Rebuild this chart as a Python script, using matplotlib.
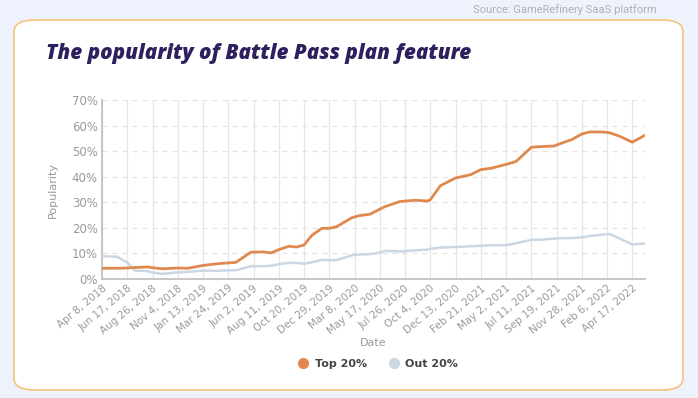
import matplotlib
matplotlib.use("Agg")
import matplotlib.pyplot as plt
from matplotlib.patches import FancyBboxPatch
from matplotlib.lines import Line2D
import pandas as pd

# data (weekly sample points)
dates = ["2018-04-08", "2018-05-20", "2018-06-17", "2018-07-08", "2018-08-12",
         "2018-08-26", "2018-09-23", "2018-11-04", "2018-12-02", "2019-01-13",
         "2019-02-24", "2019-03-24", "2019-04-14", "2019-05-26", "2019-06-30",
         "2019-07-21", "2019-08-11", "2019-09-08", "2019-09-29", "2019-10-20",
         "2019-11-10", "2019-12-08", "2019-12-29", "2020-01-19", "2020-03-01",
         "2020-03-22", "2020-04-19", "2020-05-17", "2020-05-31", "2020-07-12",
         "2020-08-23", "2020-09-27", "2020-10-04", "2020-11-01", "2020-12-13",
         "2021-01-24", "2021-02-21", "2021-03-21", "2021-05-02", "2021-05-30",
         "2021-07-11", "2021-08-08", "2021-09-12", "2021-10-10", "2021-10-31",
         "2021-11-28", "2021-12-19", "2022-01-23", "2022-02-13", "2022-03-13",
         "2022-04-17", "2022-05-22"]
top20 = [4.2, 4.2, 4.3, 4.5, 4.7, 4.4, 4.0, 4.3, 4.2, 5.3,
         6.0, 6.3, 6.5, 10.5, 10.6, 10.2, 11.5, 12.8, 12.5, 13.3,
         17.0, 19.8, 19.8, 20.5, 24.0, 24.8, 25.3, 27.3, 28.3, 30.3,
         30.8, 30.5, 31.0, 36.5, 39.5, 40.8, 42.8, 43.3, 44.8, 46.0,
         51.5, 51.8, 52.0, 53.5, 54.5, 56.7, 57.5, 57.5, 57.2, 55.8,
         53.5, 56.2]
out20 = [8.9, 8.7, 6.5, 3.3, 3.1, 2.5, 2.0, 2.6, 2.8, 3.3,
         3.2, 3.4, 3.4, 5.0, 5.0, 5.2, 5.8, 6.3, 6.3, 6.0,
         6.5, 7.5, 7.3, 7.4, 9.3, 9.6, 9.7, 10.3, 11.0, 10.8,
         11.2, 11.5, 11.8, 12.3, 12.5, 12.8, 13.0, 13.2, 13.2, 14.0,
         15.3, 15.4, 15.8, 16.0, 16.0, 16.3, 16.8, 17.3, 17.6, 15.8,
         13.5, 13.9]
series_labels = ["Top 20%", "Out 20%"]
yticks = [0, 10, 20, 30, 40, 50, 60, 70]

x = pd.to_datetime(dates)
orange = "#e0894f"
blue = "#cbd7e3"
grey = "#9a9a9a"

fig = plt.figure(figsize=(6.98, 3.98), dpi=100)
fig.patch.set_facecolor("#eef2fc")

# white rounded card behind everything
card = FancyBboxPatch((14 / 698, 8 / 398), 669 / 698, 370 / 398,
                      boxstyle="round,pad=0,rounding_size=0.03",
                      transform=fig.transFigure, facecolor="white",
                      edgecolor="#f6c37a", linewidth=1.2, zorder=-10)
fig.patches.append(card)

fig.text(657 / 698, 1 - 10 / 398, "Source: GameRefinery SaaS platform",
         ha="right", va="center", fontsize=8, color="#b0b0b0",
         family="Roboto")
fig.text(46 / 698, 1 - 54 / 398, "The popularity of Battle Pass plan feature",
         ha="left", va="center", fontsize=14.9, fontweight="heavy",
         fontstyle="italic", color="#2e1f5e", family="Open Sans")

ax = fig.add_axes([102 / 698, 1 - 279 / 398, 543 / 698, 179 / 398])
ax.set_facecolor("none")
ax.plot(x, out20, color=blue, lw=1.8, zorder=3)
ax.plot(x, top20, color=orange, lw=2.0, zorder=4)

start = pd.Timestamp("2018-04-08")
ticks = pd.date_range(start, "2022-04-17", freq="70D")
ax.set_xticks(ticks)
ax.set_xticklabels([f"{t.strftime('%b')} {t.day}, {t.year}" for t in ticks],
                   rotation=40, ha="right", rotation_mode="anchor")
ax.set_xlim(x[0], x[-1])
ax.set_ylim(0, 70)
ax.set_yticks(yticks)
ax.set_yticklabels([f"{v}%" for v in yticks])

ax.grid(axis="x", color="#e6e6e6", lw=0.9)
ax.grid(axis="y", color="#e3e3e3", lw=0.9, ls=(0, (4, 4)))
for s in ["top", "right"]:
    ax.spines[s].set_visible(False)
for s in ["left", "bottom"]:
    ax.spines[s].set_color("#bdbdbd")
    ax.spines[s].set_linewidth(1.2)
ax.tick_params(length=0, labelcolor=grey, pad=3)
ax.tick_params(axis="x", labelsize=7.5)
ax.tick_params(axis="y", labelsize=8.5)
ax.set_xlabel("Date", fontsize=8, color=grey, va="center")
ax.xaxis.set_label_coords(0.5, -0.36)
ax.set_ylabel("Popularity", fontsize=8, color=grey, labelpad=10)

handles = [Line2D([], [], marker="o", ls="", color=c, markersize=7)
           for c in (orange, blue)]
leg = fig.legend(handles, series_labels, loc="center",
                 bbox_to_anchor=(375 / 698, 1 - 364 / 398), ncol=2,
                 frameon=False, handletextpad=0.05, columnspacing=1.4,
                 prop={"weight": "bold", "size": 8})
for t in leg.get_texts():
    t.set_color("#444444")

fig.savefig("out.png", dpi=100)
